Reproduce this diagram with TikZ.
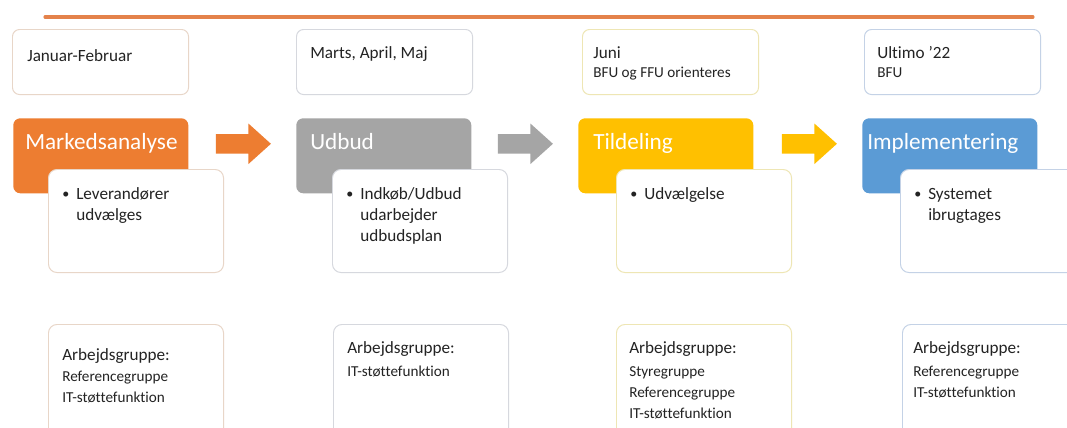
\documentclass[tikz,border=0pt]{standalone}
\usepackage{fontspec}
\setmainfont[Ligatures=NoCommon]{Carlito}
\usetikzlibrary{
  shapes.arrows,
  positioning,
  calc
}
\definecolor{phase1}{RGB}{237,125,49}
\definecolor{phase2}{RGB}{165,165,165}
\definecolor{phase3}{RGB}{255,192,0}
\definecolor{phase4}{RGB}{91,155,213}
\definecolor{frame1}{RGB}{232,214,200}
\definecolor{frame2}{RGB}{214,216,222}
\definecolor{frame3}{RGB}{238,230,180}
\definecolor{frame4}{RGB}{196,210,230}
\definecolor{inktext}{RGB}{35,35,35}
\definecolor{timeline}{RGB}{228,130,75}

\begin{document}
\begin{tikzpicture}[
  x=0.025cm, y=-0.025cm,
  font=\fontsize{12.2}{15.2}\selectfont,
  datebox/.style={
    rectangle,
    rounded corners=5pt,
    draw,
    line width=0.7pt,
    fill=white,
    minimum width=4.4cm,
    minimum height=1.625cm,
    anchor=north west,
    inner sep=0pt
  },
  phasebox/.style={
    rectangle,
    rounded corners=5pt,
    draw=none,
    minimum width=4.375cm,
    minimum height=1.875cm,
    anchor=north west,
    inner sep=0pt
  },
  taskbox/.style={
    rectangle,
    rounded corners=6pt,
    draw,
    line width=0.7pt,
    fill=white,
    minimum width=4.375cm,
    minimum height=2.575cm,
    anchor=north west,
    inner sep=0pt
  },
  groupbox/.style={
    taskbox,
    minimum height=3cm
  },
  phasetitle/.style={
    anchor=base west,
    inner sep=0pt,
    text=white,
    font=\fontsize{16.5}{19}\selectfont
  },
  % multi-line texts: base anchor sits on the LAST line
  txt/.style={
    anchor=base west,
    inner sep=0pt,
    align=left,
    text=inktext
  },
  subtxt/.style={
    txt,
    font=\fontsize{10.8}{15}\selectfont
  },
  dot/.style={
    txt,
    font=\fontsize{10}{12}\selectfont
  },
  flow/.style={
    single arrow,
    draw=none,
    minimum height=1.375cm,
    minimum width=1cm,
    single arrow head extend=0.2625cm,
    single arrow tip angle=84,
    inner xsep=0pt,
    inner ysep=0.2375cm,
    anchor=tail
  }
]

\useasboundingbox[fill=white] (0,0) rectangle (1067,428);

% ------------------------------------------------------------------
% Column anchors + time line
% ------------------------------------------------------------------
\coordinate (col1) at (12,0);
\coordinate (col2) at (296,0);
\coordinate (col3) at (580,0);
\coordinate (col4) at (863,0);

\coordinate (linestart) at (45,17);
\coordinate (lineend) at (1033,17);
\draw[timeline, line width=2.2pt, line cap=round] (linestart) -- (lineend);

% ------------------------------------------------------------------
% Column 1
% ------------------------------------------------------------------
\node[datebox, draw=frame1] (date1) at ($(col1)+(0,29)$) {};
\node[txt] (date1txt) at ($(date1.north west)+(15,32)$) {Januar-Februar};

\node[phasebox, fill=phase1] (phase1) at ($(col1)+(1,118)$) {};
\node[phasetitle] (phase1txt) at ($(phase1.north west)+(12,31)$) {Markedsanalyse};

\node[taskbox, draw=frame1] (task1) at ($(col1)+(36,169)$) {};
\node[dot] (task1dot) at ($(task1.north west)+(14,29)$) {\textbullet};
\node[txt] (task1txt) at ($(task1.north west)+(28,51.4)$) {Leverandører\\udvælges};

\node[groupbox, draw=frame1] (group1) at ($(col1)+(36,324)$) {};
\node[txt] (group1head) at ($(group1.north west)+(14,36)$) {Arbejdsgruppe:};
\node[subtxt] (group1txt) at ($(group1.north west)+(14,78.2)$)
  {Referencegruppe\\IT-støttefunktion};

% ------------------------------------------------------------------
% Column 2
% ------------------------------------------------------------------
\node[datebox, draw=frame2] (date2) at ($(col2)+(0,29)$) {};
\node[txt] (date2txt) at ($(date2.north west)+(14,29)$) {Marts, April, Maj};

\node[phasebox, fill=phase2] (phase2) at ($(col2)+(0,118)$) {};
\node[phasetitle] (phase2txt) at ($(phase2.north west)+(14,31)$) {Udbud};

\node[taskbox, draw=frame2] (task2) at ($(col2)+(36,169)$) {};
\node[dot] (task2dot) at ($(task2.north west)+(14,29)$) {\textbullet};
\node[txt] (task2txt) at ($(task2.north west)+(28,72.9)$)
  {Indkøb/Udbud\\udarbejder\\udbudsplan};

\node[groupbox, draw=frame2] (group2) at ($(col2)+(37,324)$) {};
\node[txt] (group2head) at ($(group2.north west)+(14,29)$) {Arbejdsgruppe:};
\node[subtxt] (group2txt) at ($(group2.north west)+(14,52)$) {IT-støttefunktion};

% ------------------------------------------------------------------
% Column 3
% ------------------------------------------------------------------
\node[datebox, draw=frame3] (date3) at ($(col3)+(2,29)$) {};
\node[txt] (date3txt) at ($(date3.north west)+(11,29)$) {Juni};
\node[subtxt] (date3sub) at ($(date3.north west)+(11,48)$) {BFU og FFU orienteres};

\node[phasebox, fill=phase3] (phase3) at ($(col3)+(-2,118)$) {};
\node[phasetitle] (phase3txt) at ($(phase3.north west)+(15,31)$) {Tildeling};

\node[taskbox, draw=frame3] (task3) at ($(col3)+(36,169)$) {};
\node[dot] (task3dot) at ($(task3.north west)+(14,29)$) {\textbullet};
\node[txt] (task3txt) at ($(task3.north west)+(28,30)$) {Udvælgelse};

\node[groupbox, draw=frame3] (group3) at ($(col3)+(36,324)$) {};
\node[txt] (group3head) at ($(group3.north west)+(13,29)$) {Arbejdsgruppe:};
\node[subtxt] (group3txt) at ($(group3.north west)+(13,94.4)$)
  {Styregruppe\\Referencegruppe\\IT-støttefunktion};

% ------------------------------------------------------------------
% Column 4
% ------------------------------------------------------------------
\node[datebox, draw=frame4] (date4) at ($(col4)+(1,29)$) {};
\node[txt] (date4txt) at ($(date4.north west)+(13,29)$) {Ultimo ’22};
\node[subtxt] (date4sub) at ($(date4.north west)+(13,48)$) {BFU};

\node[phasebox, fill=phase4] (phase4) at ($(col4)+(-1,118)$) {};
\node[phasetitle] (phase4txt) at ($(phase4.north west)+(5,31)$) {Implementering};

\node[taskbox, draw=frame4] (task4) at ($(col4)+(37,169)$) {};
\node[dot] (task4dot) at ($(task4.north west)+(14,29)$) {\textbullet};
\node[txt] (task4txt) at ($(task4.north west)+(28,51.4)$) {Systemet\\ibrugtages};

\node[groupbox, draw=frame4] (group4) at ($(col4)+(39,324)$) {};
\node[txt] (group4head) at ($(group4.north west)+(11,29)$) {Arbejdsgruppe:};
\node[subtxt] (group4txt) at ($(group4.north west)+(11,73.2)$)
  {Referencegruppe\\IT-støttefunktion};

% ------------------------------------------------------------------
% Block arrows between phases
% ------------------------------------------------------------------
\node[flow, fill=phase1] (flow12) at ($(phase1.east)+(27,-12)$) {};
\node[flow, fill=phase2] (flow23) at ($(phase2.east)+(26,-12)$) {};
\node[flow, fill=phase3] (flow34) at ($(phase3.east)+(28,-12)$) {};

\end{tikzpicture}
\end{document}
